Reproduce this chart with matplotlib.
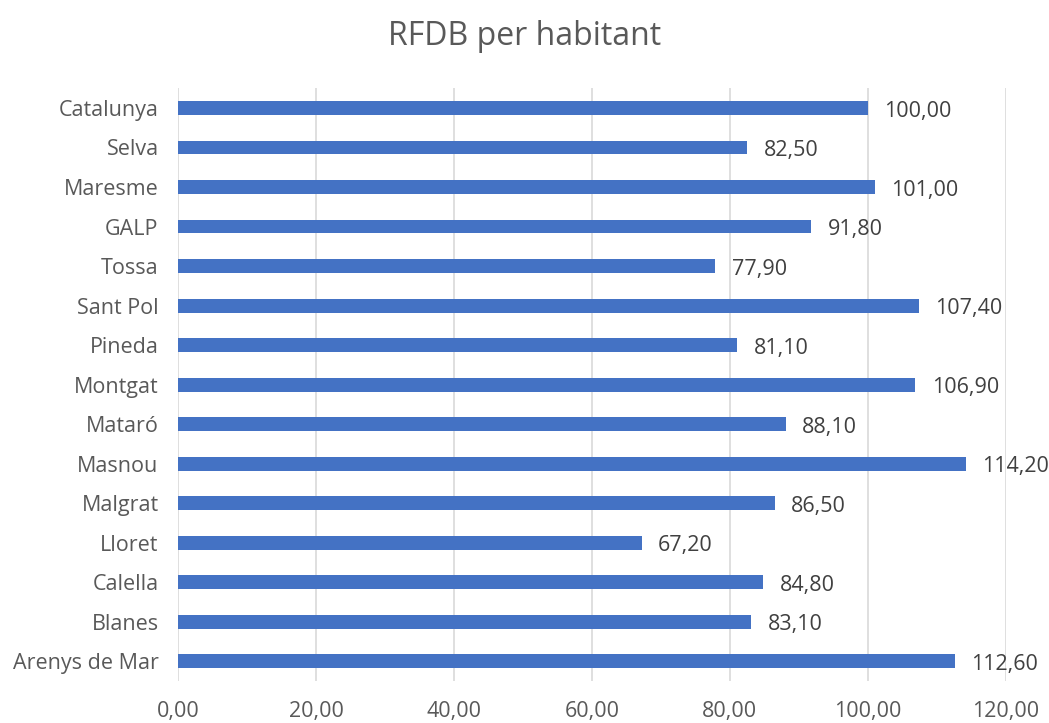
import matplotlib
matplotlib.use("Agg")
import matplotlib.pyplot as plt

categories = ["Arenys de Mar", "Blanes", "Calella", "Lloret", "Malgrat", "Masnou",
              "Mataró", "Montgat", "Pineda", "Sant Pol", "Tossa", "GALP",
              "Maresme", "Selva", "Catalunya"]
values = [112.60, 83.10, 84.80, 67.20, 86.50, 114.20, 88.10, 106.90, 81.10,
          107.40, 77.90, 91.80, 101.00, 82.50, 100.00]
xticks = [0, 20, 40, 60, 80, 100, 120]

def fmt(v):
    return f"{v:.2f}".replace(".", ",")

plt.rcParams['font.family'] = ['Open Sans', 'DejaVu Sans']
txt = "#595959"

fig = plt.figure(figsize=(10.49, 7.23), dpi=100)
ax = fig.add_axes([0.1697, 0.058, 0.789, 0.820])
y = range(len(categories))
ax.barh(y, values, height=0.35, color="#4472C4", zorder=3)
for i, v in enumerate(values):
    ax.text(v + 2.4, i - 0.08, fmt(v), va="center", ha="left", fontsize=15.5, color="#404040")

ax.set_xlim(0, 120)
ax.set_ylim(-0.5, len(categories) - 0.5)
ax.set_xticks(xticks)
ax.set_xticklabels([fmt(t) for t in xticks], fontsize=15.5, color=txt)
ax.tick_params(axis="both", length=0)
ax.tick_params(axis="x", pad=14)
ax.set_yticks(list(y))
ax.set_yticklabels(categories, fontsize=15.5, color=txt)
ax.tick_params(axis="y", pad=14)
ax.grid(axis="x", color="#D9D9D9", linewidth=1.2, zorder=0)
for s in ["top", "right", "bottom", "left"]:
    ax.spines[s].set_visible(False)
fig.suptitle("RFDB per habitant", y=0.972, fontsize=23, color=txt)
fig.savefig("out.png", dpi=100)
